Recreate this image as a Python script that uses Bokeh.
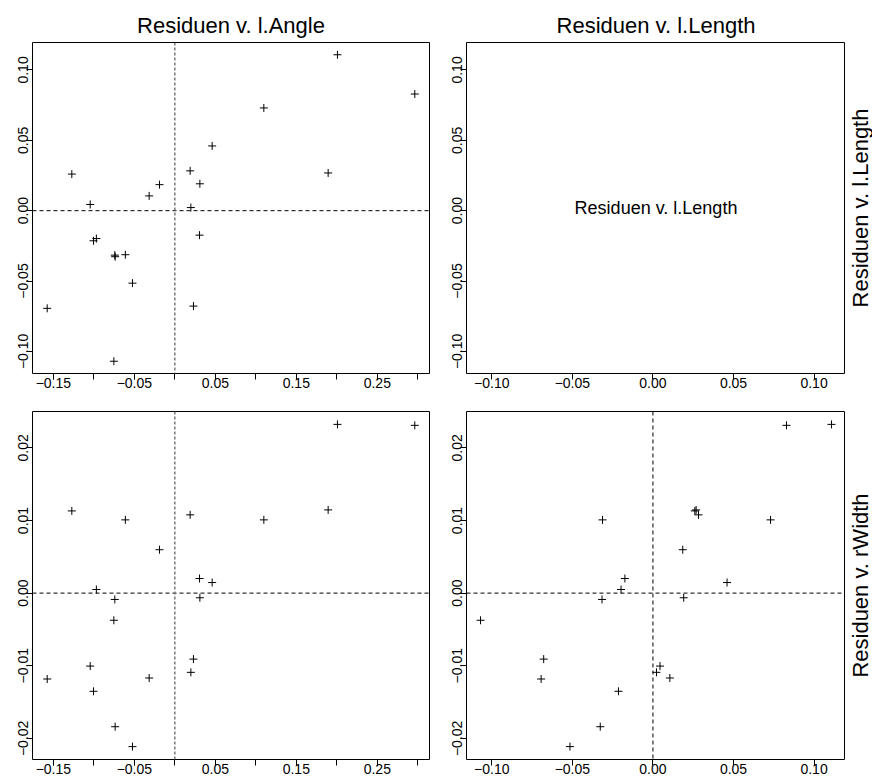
import math
from bokeh.plotting import figure
from bokeh.models import Range1d, FixedTicker, CustomJSTickFormatter, Span, Label
from bokeh.layouts import column, row
from bokeh.embed import file_html
from bokeh.resources import INLINE

# Residuals (one entry per observation)
res_angle = [0.2008, 0.2963, 0.1099, 0.0461, 0.1893, -0.1272, 0.0189, 0.0309,
             -0.0189, -0.0317, -0.1045, 0.0198, 0.0305, -0.0969, -0.1004, -0.0741,
             -0.0737, -0.0611, -0.0523, -0.1576, 0.0230, -0.0753]
res_length = [0.1108, 0.0829, 0.0730, 0.0460, 0.0268, 0.0260, 0.0283, 0.0191,
              0.0185, 0.0105, 0.0044, 0.0022, -0.0174, -0.0198, -0.0214, -0.0316,
              -0.0327, -0.0313, -0.0515, -0.0694, -0.0678, -0.1070]
res_rwidth = [0.02324, 0.02311, 0.01009, 0.00146, 0.01146, 0.01132, 0.01078, -0.00064,
              0.00598, -0.01169, -0.01005, -0.01091, 0.00201, 0.00050, -0.01352, -0.00087,
              -0.01840, 0.01009, -0.02114, -0.01183, -0.00909, -0.00374]

angle_labels = [-0.15, -0.05, 0.05, 0.15, 0.25]
angle_ticks = [-0.15, -0.10, -0.05, 0.00, 0.05, 0.10, 0.15, 0.20, 0.25, 0.30]
length_ticks = [-0.10, -0.05, 0.00, 0.05, 0.10]
rwidth_ticks = [-0.02, -0.01, 0.00, 0.01, 0.02]

title_angle = "Residuen v. l.Angle"
title_length = "Residuen v. l.Length"
side_length = "Residuen v. l.Length"
side_rwidth = "Residuen v. rWidth"
center_text = "Residuen v. l.Length"

FONT = "Liberation Sans"
TICK_SIZE = "14px"


def rng(v):
    lo, hi = min(v), max(v)
    d = (hi - lo) * 0.04
    return Range1d(lo - d, hi + d)


def fmt():
    return CustomJSTickFormatter(
        code="return (tick < -1e-12 ? '\\u2212' : '') + Math.abs(tick).toFixed(2);")


def make_fig(xv, yv, w, h, bl, br, bt, bb, xticks, xminor, yticks, title=None):
    p = figure(width=w, height=h, x_range=rng(xv), y_range=rng(yv),
               output_backend="svg", toolbar_location=None,
               min_border_left=bl, min_border_right=br,
               min_border_top=bt, min_border_bottom=bb)
    p.grid.visible = False
    p.outline_line_color = "black"
    p.outline_line_width = 1
    p.background_fill_color = "white"
    p.border_fill_color = "white"
    p.xaxis.ticker = FixedTicker(ticks=xticks, minor_ticks=xminor)
    p.yaxis.ticker = FixedTicker(ticks=yticks, minor_ticks=[])
    for ax in (p.xaxis[0], p.yaxis[0]):
        ax.formatter = fmt()
        ax.axis_line_color = None
        ax.major_tick_in = 0
        ax.major_tick_out = 6
        ax.minor_tick_in = 0
        ax.minor_tick_out = 6
        ax.major_tick_line_color = "black"
        ax.minor_tick_line_color = "black"
        ax.major_label_text_font = FONT
        ax.major_label_text_font_size = TICK_SIZE
        ax.major_label_text_color = "black"
        ax.major_label_standoff = -2
    p.yaxis.major_label_orientation = "parallel"
    if title is not None:
        p.title.text = title
        p.title.align = "center"
        p.title.text_font = FONT
        p.title.text_font_size = "22px"
        p.title.text_font_style = "normal"
        p.title.text_color = "black"
        p.title.standoff = 9
    return p


def side_fig(w, h, bt, bb, text):
    s = figure(width=w, height=h, x_range=Range1d(0, 1), y_range=Range1d(0, 1),
               output_backend="svg", toolbar_location=None,
               x_axis_type=None, y_axis_type=None,
               min_border_left=0, min_border_right=0,
               min_border_top=bt, min_border_bottom=bb)
    s.grid.visible = False
    s.outline_line_color = None
    s.background_fill_color = "white"
    s.border_fill_color = "white"
    s.add_layout(Label(x=15, y=(h - bt - bb) / 2, x_units="screen", y_units="screen",
                       angle=math.pi / 2, text=text, text_align="center",
                       text_baseline="alphabetic", text_font=FONT,
                       text_font_size="22px", text_color="black"))
    return s


# layout geometry (pixels)
LW, RW, SW = 431, 414, 27
TH, BH = 393, 386
L_BL, L_BR = 32, 2
R_BL, R_BR = 35, 0
T_BT, T_BB = 42, 20
B_BT, B_BB = 18, 20

tl = make_fig(res_angle, res_length, LW, TH, L_BL, L_BR, T_BT, T_BB,
              angle_labels, angle_ticks, length_ticks, title_angle)
tr = make_fig(res_length, res_length, RW, TH, R_BL, R_BR, T_BT, T_BB,
              length_ticks, [], length_ticks, title_length)
bl = make_fig(res_angle, res_rwidth, LW, BH, L_BL, L_BR, B_BT, B_BB,
              angle_labels, angle_ticks, rwidth_ticks)
br = make_fig(res_length, res_rwidth, RW, BH, R_BL, R_BR, B_BT, B_BB,
              length_ticks, [], rwidth_ticks)

ts = side_fig(SW, TH, T_BT, T_BB, side_length)
bs = side_fig(SW, BH, B_BT, B_BB, side_rwidth)

# points
tl.scatter(res_angle, res_length, marker="cross", size=8, line_color="black", line_width=1)
bl.scatter(res_angle, res_rwidth, marker="cross", size=8, line_color="black", line_width=1)
br.scatter(res_length, res_rwidth, marker="cross", size=8, line_color="black", line_width=1)

# reference lines at zero
for p in (tl, bl, br):
    p.add_layout(Span(location=0, dimension="width", line_color="black",
                      line_dash="4 3", line_width=1))
for p in (tl, bl):
    p.add_layout(Span(location=0, dimension="height", line_color="#7a7a7a",
                      line_dash="3 2", line_width=1.5))
br.add_layout(Span(location=0, dimension="height", line_color="black",
                   line_dash="4 3", line_width=1))

# centre text in the empty panel
rfw = RW - R_BL - R_BR
tfh = TH - T_BT - T_BB
tr.add_layout(Label(x=rfw / 2, y=tfh / 2, x_units="screen", y_units="screen",
                    text=center_text, text_align="center", text_baseline="middle",
                    text_font=FONT, text_font_size="18px", text_color="black"))

layout = column(row(tl, tr, ts), row(bl, br, bs))
open("out.html", "w").write(file_html(layout, INLINE))
